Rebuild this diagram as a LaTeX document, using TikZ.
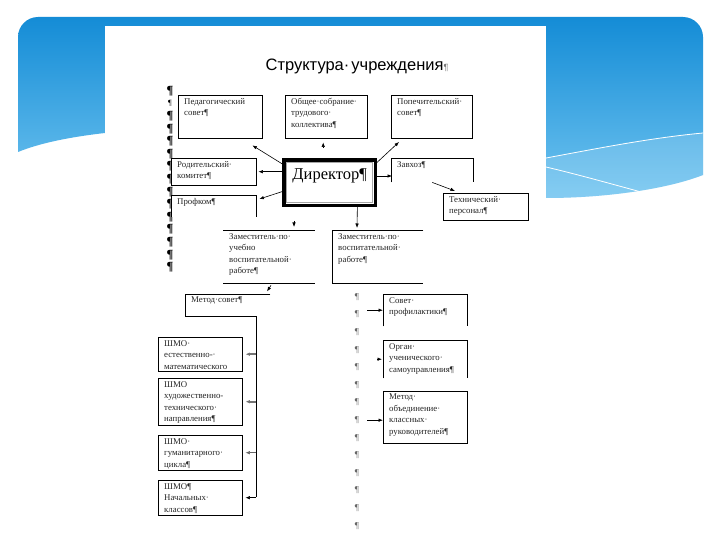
\documentclass[tikz,border=0pt]{standalone}
\usepackage{fontspec}
\setmainfont{Liberation Serif}
\newfontfamily\sansf{Liberation Sans}
\usetikzlibrary{arrows.meta,calc}
\definecolor{blueT}{RGB}{20,140,214}
\definecolor{blueB}{RGB}{112,196,240}
\newcommand{\tb}[3]{\parbox[c][#2][t]{#1}{\leftskip=6pt\rightskip=0pt plus 1fil\parindent=0pt\vspace*{3pt}#3}}
\tikzset{
 bx/.style={inner sep=0pt, anchor=north west, font=\fontsize{8.8}{11.5}\selectfont, text=black!85},
 ln/.style={line width=0.8pt, black},
 arr/.style={-{Latex[length=4.5pt,width=3.5pt]}, line width=0.6pt},
 pil/.style={font=\fontsize{12.5}{12}\selectfont\bfseries, inner sep=0pt},
 pilg/.style={font=\fontsize{9}{9}\selectfont, text=black!60, inner sep=0pt},
}
\begin{document}
\begin{tikzpicture}[x=1pt,y=-1pt]
\useasboundingbox (0,0) rectangle (720,540);
\fill[white] (0,0) rectangle (720,540);
% blue background
\shade[top color=blueT, bottom color=blueB]
 (18,152) -- (18,37) .. controls (18,26) and (27,17) .. (38,17) -- (683,17)
 .. controls (694,17) and (703,26) .. (703,37) -- (703,175)
 .. controls (670,188) and (610,198) .. (546,198) -- (105,133)
 .. controls (70,137) and (40,143) .. (18,152) -- cycle;
\fill[white, opacity=0.15] (546,158) .. controls (600,148) and (650,138) .. (703,133)
 -- (703,175) .. controls (670,188) and (610,198) .. (546,198) -- cycle;
\draw[white, line width=0.8pt] (546,158) .. controls (600,148) and (650,138) .. (703,133);
\draw[white, line width=0.8pt] (546,167) .. controls (580,175) and (615,185) .. (645,193);
% page
\fill[white] (105,26) rectangle (546,540);
% title
\node[font=\sansf\fontsize{16.5}{17}\selectfont, inner sep=0pt] (title) at (357,66)
 {Структура·\hspace{2pt}учреждения{\fontsize{9}{9}\selectfont\color{black!55}¶}};
% left pilcrows
\foreach \i in {0,2,3,...,14} \node[pil] (lp\i) at (170,{91+12.6*\i}) {¶};
\node[font=\fontsize{8}{8}\selectfont, inner sep=0pt] (lp1) at (170,103.6) {¶};
% middle pilcrows
\foreach \i in {0,...,13} \node[pilg] (mp\i) at (357,{297+17.6*\i}) {¶};
% top row
\node[bx] (ped) at (178,95) {\tb{84pt}{43pt}{Педагогический\\совет¶}};
\draw[ln] (ped.north west) rectangle (ped.south east);
\node[bx] (sob) at (285,95) {\tb{82pt}{43pt}{Общее·собрание·\\трудового·\\коллектива¶}};
\draw[ln] (sob.north west) rectangle (sob.south east);
\node[bx] (pop) at (391,95) {\tb{81pt}{43pt}{Попечительский·\\совет¶}};
\draw[ln] (pop.north west) rectangle (pop.south east);
% middle row
\node[bx, fill=white] (rod) at (171,158) {\tb{85pt}{27pt}{Родительский·\\комитет¶}};
\draw[ln] (rod.north west) rectangle (rod.south east);
\node[bx, fill=white] (prof) at (171,195) {\tb{85pt}{22pt}{Профком¶}};
\draw[ln] (prof.south west) -- (prof.north west) -- (prof.north east) -- (prof.south east);
\node[inner sep=0pt, anchor=north west, font=\fontsize{16.5}{18}\selectfont] (dir) at (284,160)
 {\parbox[c][45pt][t]{91pt}{\centering\vspace*{8pt}Директор¶}};
\draw[line width=3.5pt] (dir.north west) rectangle (dir.south east);
\draw[black!35, line width=0.8pt] ($(dir.north west)+(2.6,2.6)$) rectangle ($(dir.south east)+(-2.6,-2.6)$);
\node[bx] (zav) at (391,158) {\tb{82pt}{24pt}{Завхоз¶}};
\draw[ln] (zav.south west) -- (zav.north west) -- (zav.north east) -- (zav.south east);
\node[bx, fill=white] (teh) at (443,193) {\tb{85pt}{27pt}{Технический·\\персонал¶}};
\draw[ln] (teh.north west) rectangle (teh.south east);
% deputies
\node[bx] (zam1) at (223,230) {\tb{92pt}{53pt}{Заместитель·по·\\учебно\\воспитательной·\\работе¶}};
\draw[ln] (zam1.north west) -- (zam1.north east);
\draw[ln] (zam1.south west) -- (zam1.south east);
\node[bx] (zam2) at (332,230) {\tb{91pt}{53pt}{Заместитель·по·\\воспитательной·\\работе¶}};
\draw[ln] (zam2.north east) -- (zam2.north west) -- (zam2.south west) -- (zam2.south east);
% method council
\node[bx] (mets) at (185,294) {\tb{85pt}{22pt}{Метод·совет¶}};
\coordinate (trk) at ($(mets.south west)+(71,0)$);
\coordinate (trkend) at ($(trk)+(0,181)$);
\draw[ln] (mets.north east) -- (mets.north west) -- (mets.south west) -- (trk) -- (trkend);
\node[bx] (sh1) at (158,337) {\tb{84pt}{34pt}{ШМО·\\естественно-·\\математического}};
\draw[ln] (sh1.north west) rectangle (sh1.south east);
\node[bx] (sh2) at (158,378) {\tb{84pt}{47pt}{ШМО\\художественно-\\технического·\\направления¶}};
\draw[ln] (sh2.north west) rectangle (sh2.south east);
\node[bx] (sh3) at (158,435) {\tb{84pt}{35pt}{ШМО·\\гуманитарного·\\цикла¶}};
\draw[ln] (sh3.north west) rectangle (sh3.south east);
\node[bx] (sh4) at (158,480) {\tb{84pt}{35pt}{ШМО¶\\Начальных·\\классов¶}};
\draw[ln] (sh4.north west) rectangle (sh4.south east);
\draw[arr, line width=1.6pt, black!55] (trk |- sh1.east) -- ($(sh1.east)+(3,0)$);
\draw[arr, line width=1.6pt, black!55] (trk |- sh2.east) -- ($(sh2.east)+(3,0)$);
\draw[arr, black!60] (trk |- sh3.east) -- ($(sh3.east)+(3,0)$);
\draw[arr] (trk |- sh4.east) -- ($(sh4.east)+(3,0)$);
% right bottom
\node[bx] (sprof) at (383,294) {\tb{84pt}{32pt}{Совет·\\профилактики¶}};
\draw[ln] (sprof.south west) -- (sprof.north west) -- (sprof.north east) -- (sprof.south east);
\node[bx] (org) at (383,340) {\tb{84pt}{38pt}{Орган·\\ученического·\\самоуправления¶}};
\draw[ln] (org.south west) -- (org.north west) -- (org.north east) -- (org.south east);
\node[bx] (mob) at (383,391) {\tb{84pt}{52pt}{Метод·\\объединение·\\классных·\\руководителей¶}};
\draw[ln] (mob.north west) rectangle (mob.south east);
\draw[arr] ($(sprof.west)+(-16,0)$) -- (sprof.west);
\draw[arr] ($(org.west)+(-6,0)$) -- ($(org.west)+(-1,0)$);
\draw[arr] ($(mob.west)+(-16,3)$) -- ($(mob.west)+(0,3)$);
% director connectors
\draw[arr] ($(dir.north west)+(0,5)$) -- ($(ped.south east)+(-10,7)$);
\draw[arr] ($(sob.south)+(-3,9)$) -- ($(sob.south)+(-3,4)$);
\draw[arr] ($(dir.north east)+(1,3)$) -- ($(pop.north west)+(8,47)$);
\draw[arr] (dir.west |- rod.east) -- ($(rod.east)+(2,0)$);
\draw[arr] ($(dir.north east)+(0,16)$) -- ($(zav.north west)+(1,18)$);
\draw[arr] ($(dir.north west)+(0,31)$) -- ($(prof.north east)+(3,4)$);
\draw[arr] (zav.south) -- ($(teh.north west)+(12,-2)$);
\draw[arr] ($(zam1.north west)+(71,-9)$) -- ($(zam1.north west)+(71,-3)$);
\draw[arr] ($(dir.south east)+(-18,0)$) -- ($(zam2.north west)+(25,-2)$);
\draw[arr] ($(zam1.south west)+(48,2)$) -- ($(zam1.south west)+(44,8)$);
\end{tikzpicture}
\end{document}
